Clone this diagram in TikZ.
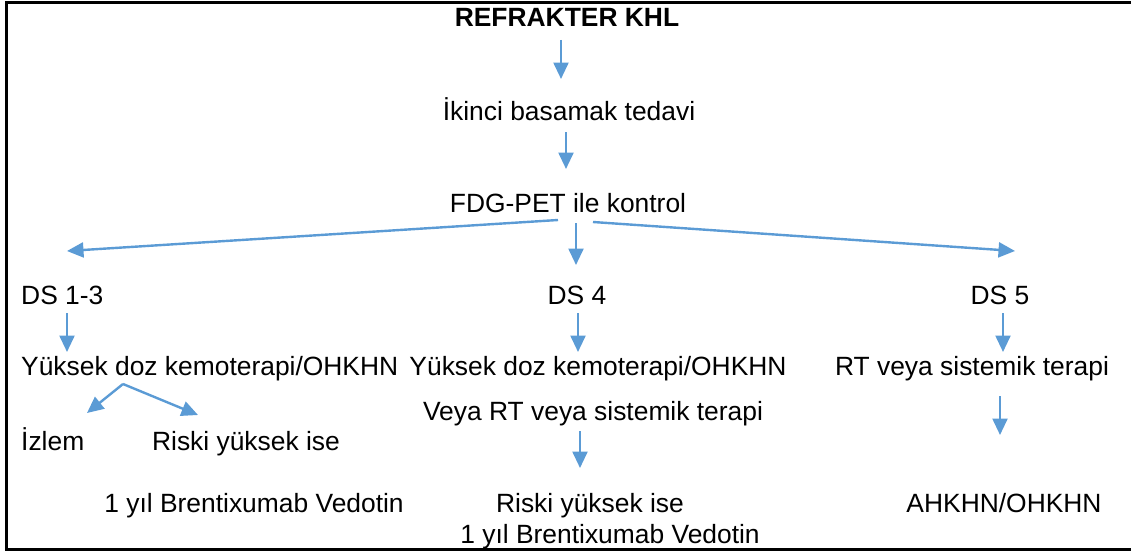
\documentclass[tikz,border=0pt]{standalone}
\usepackage{fontspec}
\setmainfont{Liberation Sans}
\usetikzlibrary{arrows.meta,calc}
\definecolor{arrblue}{HTML}{5B9BD5}
\begin{document}
\begin{tikzpicture}[x=1pt,y=-1pt,
  lbl/.style={inner sep=0pt,font=\fontsize{26.4}{30}\selectfont},
  arr/.style={draw=arrblue,line width=2.4pt,-{Triangle[length=16.5pt,width=15pt]}},
  frame/.style={draw=black,line width=3pt}]
\useasboundingbox (0,0) rectangle (1131,551);
\draw[frame] (1140,2.2) -- (6.2,2.2) -- (6.2,549.5) -- (1140,549.5);

\node[lbl,anchor=base,font=\fontsize{26.4}{30}\selectfont\bfseries] (top) at (567,27) {REFRAKTER KHL};
\node[lbl,anchor=base] (ik) at (569,120) {İkinci basamak tedavi};
\node[lbl,anchor=base] (fdg) at (568,212) {FDG-PET ile kontrol};
\node[lbl,anchor=base west] (ds13) at (21,304) {DS 1-3};
\node[lbl,anchor=base] (ds4) at (577,304) {DS 4};
\node[lbl,anchor=base] (ds5) at (1000,304) {DS 5};
\node[lbl,anchor=base west] (yk1) at (21,375) {Yüksek doz kemoterapi/OHKHN};
\node[lbl,anchor=base] (yk2) at (598,375) {Yüksek doz kemoterapi/OHKHN};
\node[lbl,anchor=base] (rt) at (972,375) {RT veya sistemik terapi};
\node[lbl,anchor=base] (veya) at (593,420) {Veya RT veya sistemik terapi};
\node[lbl,anchor=base west] (izlem) at (21,450) {İzlem};
\node[lbl,anchor=base] (risk1) at (246,450) {Riski yüksek ise};
\node[lbl,anchor=base] (bv1) at (254,512) {1 yıl Brentixumab Vedotin};
\node[lbl,anchor=base] (risk2) at (590,512) {Riski yüksek ise};
\node[lbl,anchor=base] (bv2) at (610,543) {1 yıl Brentixumab Vedotin};
\node[lbl,anchor=base] (ahk) at (1004,512) {AHKHN/OHKHN};

\draw[arr] ($(top.base)+(-6,13)$) -- ($(ik.base)+(-8,-41)$);
\draw[arr] ($(ik.base)+(-3,12)$) -- ($(fdg.base)+(-2,-43)$);
\draw[arr] ($(fdg.base)+(-10,8)$) -- ($(ds13.base west)+(46,-53)$);
\draw[arr] ($(fdg.base)+(8,11)$) -- ($(ds4.base)+(-1,-39)$);
\draw[arr] ($(fdg.base)+(25,10)$) -- ($(ds5.base)+(15,-53)$);
\draw[arr] ($(ds13.base west)+(46,9)$) -- ($(yk1.base west)+(46,-23)$);
\draw[arr] ($(ds4.base)+(1,9)$) -- ($(yk2.base)+(-20,-23)$);
\draw[arr] ($(ds5.base)+(3,9)$) -- ($(rt.base)+(31,-23)$);
\draw[arr] ($(yk1.base west)+(102,9)$) -- ($(izlem.base west)+(66,-37)$);
\draw[arr] ($(yk1.base west)+(102,9)$) -- ($(risk1.base)+(-48,-35)$);
\draw[arr] ($(veya.base)+(-13,11)$) -- ($(risk2.base)+(-10,-44)$);
\draw[arr] ($(rt.base)+(28,21)$) -- ($(ahk.base)+(-4,-77)$);
\end{tikzpicture}
\end{document}
